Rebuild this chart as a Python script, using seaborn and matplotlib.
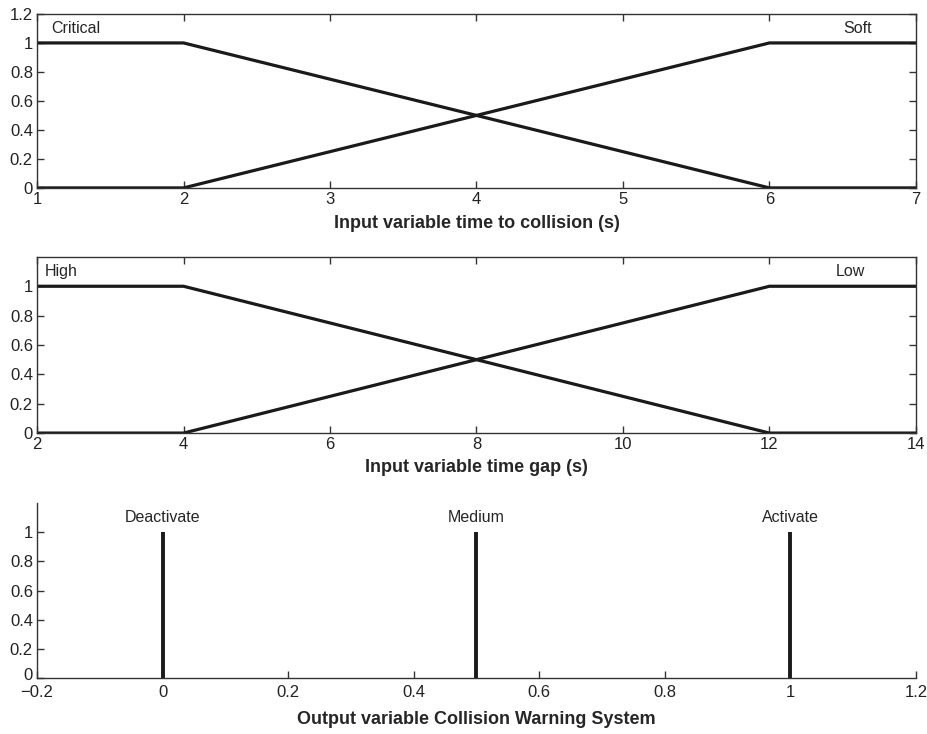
import numpy as np
import pandas as pd
import seaborn as sns
import matplotlib.pyplot as plt
from matplotlib.ticker import FuncFormatter
from matplotlib.transforms import ScaledTranslation

# membership functions
ttc_x = [1, 2, 6, 7]
ttc_critical = [1, 1, 0, 0]
ttc_soft = [0, 0, 1, 1]

gap_x = [2, 4, 12, 14]
gap_high = [1, 1, 0, 0]
gap_low = [0, 0, 1, 1]

out_names = ["Deactivate", "Medium", "Activate"]
out_pos = [0, 0.5, 1]
out_height = [1, 1, 1]

sns.set_theme(style="white")
plt.rcParams['font.family'] = ['Liberation Sans', 'DejaVu Sans']

fig = plt.figure(figsize=(9.27, 7.34), dpi=100)
ax1 = fig.add_axes([0.040, 0.744, 0.948, 0.237])
ax2 = fig.add_axes([0.040, 0.410, 0.948, 0.240])
ax3 = fig.add_axes([0.040, 0.076, 0.948, 0.239])

line_kw = dict(color="#1a1a1a", linewidth=2.3, legend=False)
fmt = FuncFormatter(lambda v, p: ("%g" % round(v, 6)).replace("-", "\u2212"))
lab_size = 11.5
xlab_kw = dict(fontsize=13, fontweight="bold")


def style(ax, mirror=True):
    for s in ax.spines.values():
        s.set_color("#333333")
        s.set_linewidth(1.0)
    ax.tick_params(direction="in", length=5, width=1, color="#333333",
                   labelsize=12, labelcolor="#222222",
                   top=mirror, right=mirror, bottom=True, left=True, pad=3)
    ax.xaxis.set_major_formatter(fmt)
    ax.yaxis.set_major_formatter(fmt)


# top: time to collision
df1 = pd.DataFrame({"x": ttc_x * 2, "mu": ttc_critical + ttc_soft,
                    "mf": ["Critical"] * 4 + ["Soft"] * 4})
sns.lineplot(data=df1, x="x", y="mu", units="mf", estimator=None, ax=ax1, **line_kw)
ax1.set_xlim(1, 7)
ax1.set_ylim(0, 1.2)
ax1.set_xticks(range(1, 8))
ax1.set_yticks(np.arange(0, 1.21, 0.2))
ax1.text(1.1, 1.1, "Critical", fontsize=lab_size, va="center", ha="left")
ax1.text(6.6, 1.1, "Soft", fontsize=lab_size, va="center", ha="center")
ax1.set_xlabel("Input variable time to collision (s)", labelpad=6, **xlab_kw)
ax1.set_ylabel("")
style(ax1)

# middle: time gap
df2 = pd.DataFrame({"x": gap_x * 2, "mu": gap_high + gap_low,
                    "mf": ["High"] * 4 + ["Low"] * 4})
sns.lineplot(data=df2, x="x", y="mu", units="mf", estimator=None, ax=ax2, **line_kw)
ax2.set_xlim(2, 14)
ax2.set_ylim(0, 1.2)
ax2.set_xticks(range(2, 15, 2))
ax2.set_yticks(np.arange(0, 1.01, 0.2))
ax2.text(2.1, 1.1, "High", fontsize=lab_size, va="center", ha="left")
ax2.text(13.1, 1.1, "Low", fontsize=lab_size, va="center", ha="center")
ax2.set_xlabel("Input variable time gap (s)", labelpad=5, **xlab_kw)
ax2.set_ylabel("")
style(ax2)

# bottom: output singletons
ax3.vlines(out_pos, 0, out_height, color="#1a1a1a", linewidth=2.8)
for name, p, h in zip(out_names, out_pos, out_height):
    ax3.text(p, h + 0.1, name, fontsize=lab_size, va="center", ha="center")
ax3.set_xlim(-0.2, 1.2)
ax3.set_ylim(0, 1.2)
ax3.set_xticks(np.arange(-0.2, 1.21, 0.2))
ax3.set_yticks(np.arange(0, 1.01, 0.2))
ax3.spines["top"].set_visible(False)
ax3.spines["right"].set_visible(False)
ax3.set_xlabel("Output variable Collision Warning System", labelpad=8, **xlab_kw)
style(ax3, mirror=False)
ax3.tick_params(axis="x", pad=5)
# nudge the 0 label up a little so it clears the x tick labels
lbl0 = ax3.yaxis.get_major_ticks()[0].label1
lbl0.set_transform(lbl0.get_transform() + ScaledTranslation(0, 3 / 72, fig.dpi_scale_trans))

fig.savefig("out.png", dpi=100)
